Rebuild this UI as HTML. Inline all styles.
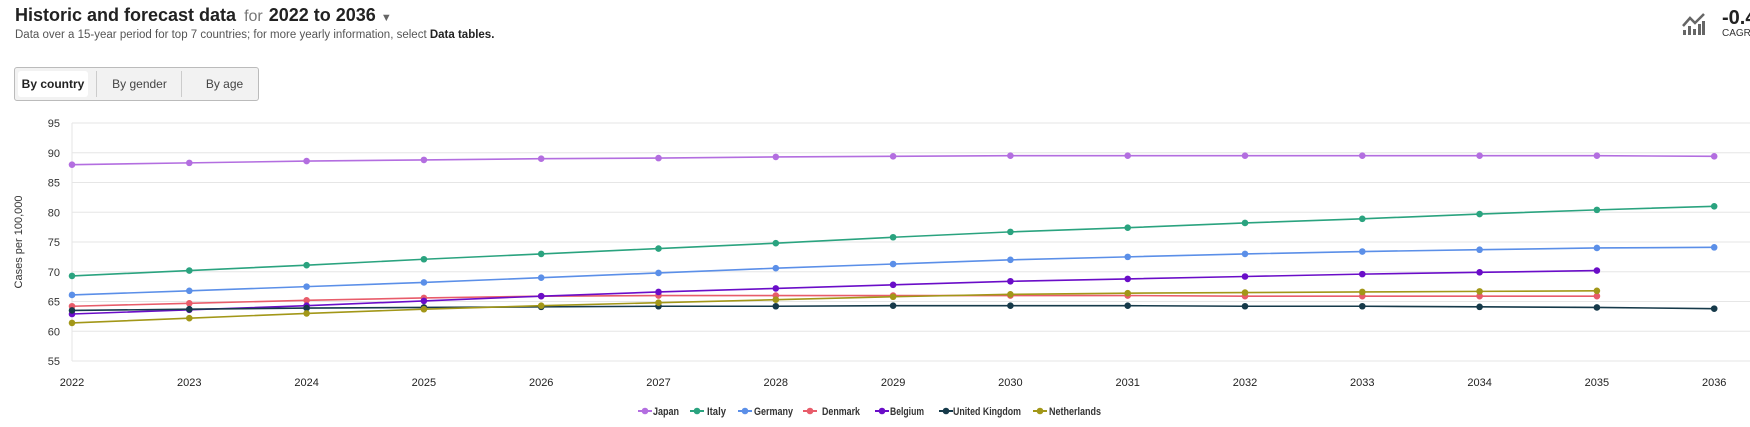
<!DOCTYPE html>
<html><head><meta charset="utf-8"><style>
body{margin:0;width:1750px;height:427px;background:#fff;font-family:"Liberation Sans",sans-serif;overflow:hidden;position:relative}
.t{position:absolute;left:15px;top:5px;font-size:18px;font-weight:bold;color:#222;white-space:nowrap}
.t .f{font-weight:normal;color:#777;font-size:16px;margin:0 6px 0 8px}
.s{position:absolute;left:15px;top:29px;font-size:11.5px;color:#555;white-space:nowrap}
.s b{color:#222}
.btns{position:absolute;left:14px;top:67px;width:245px;height:34px;border:1px solid #bbb;border-radius:3px;background:#f2f2f2;box-sizing:border-box}
.btns div{position:absolute;top:3px;height:26px;line-height:26px;font-size:12px;color:#444;text-align:center}
</style></head><body>
<div class="t">Historic and forecast data<span class="f">for</span>2022 to 2036 <span style="font-size:11px;color:#666">▼</span></div>
<div class="s">Data over a 15-year period for top 7 countries; for more yearly information, select <b>Data tables.</b></div>
<div class="btns">
<div style="left:3px;width:70px;background:#fff;border-radius:3px;font-weight:bold;color:#222">By country</div>
<div style="left:81px;width:85px;border-left:1px solid #ccc">By gender</div>
<div style="left:166px;width:85px;border-left:1px solid #ccc">By age</div>
</div>
<svg style="position:absolute;left:1682px;top:12px" width="24" height="24" viewBox="0 0 24 24"><path d="M1 14 L8 6 L13 11 L22 2" stroke="#666" stroke-width="2.5" fill="none"/><rect x="1" y="18" width="3" height="5" fill="#666"/><rect x="6" y="14" width="3" height="9" fill="#666"/><rect x="11" y="17" width="3" height="6" fill="#666"/><rect x="16" y="12" width="3" height="11" fill="#666"/><rect x="20" y="9" width="3" height="14" fill="#666"/></svg>
<div style="position:absolute;left:1722px;top:7px;font-size:20px;font-weight:bold;color:#222;white-space:nowrap">-0.4</div>
<div style="position:absolute;left:1722px;top:28px;font-size:10px;color:#333;white-space:nowrap">CAGR (</div>
<svg id="c" style="position:absolute;left:0;top:0" width="1750" height="427"></svg>
<script>
var s=document.getElementById('c'),h='';
var X=function(i){return 72+i*117.3},Y=function(v){return 123+(95-v)*5.95};
for(var v=55;v<=95;v+=5){h+='<line x1="72" x2="1750" y1="'+Y(v)+'" y2="'+Y(v)+'" stroke="#e6e6e6" stroke-width="1"/>';h+='<text x="60" y="'+(Y(v)+4)+'" text-anchor="end" font-size="11" fill="#333">'+v+'</text>';}
h+='<line x1="72" x2="72" y1="123" y2="361" stroke="#e6e6e6"/>';
for(var i=0;i<15;i++)h+='<text x="'+X(i)+'" y="386" text-anchor="middle" font-size="11" fill="#222">'+(2022+i)+'</text>';
h+='<text transform="translate(22,242) rotate(-90)" text-anchor="middle" font-size="11" fill="#333">Cases per 100,000</text>';
var D=[
['Japan','#b36ee0',[88.0,88.3,88.6,88.8,89.0,89.1,89.3,89.4,89.5,89.5,89.5,89.5,89.5,89.5,89.4]],
['Italy','#2aa37f',[69.3,70.2,71.1,72.1,73.0,73.9,74.8,75.8,76.7,77.4,78.2,78.9,79.7,80.4,81.0]],
['Germany','#5b8fe8',[66.1,66.8,67.5,68.2,69.0,69.8,70.6,71.3,72.0,72.5,73.0,73.4,73.7,74.0,74.1]],
['Denmark','#e85c6a',[64.2,64.7,65.2,65.6,65.9,66.0,66.0,66.0,66.0,66.0,65.9,65.9,65.9,65.9]],
['Belgium','#6a0dc8',[62.9,63.6,64.3,65.1,65.9,66.6,67.2,67.8,68.4,68.8,69.2,69.6,69.9,70.2]],
['United Kingdom','#163a4a',[63.5,63.7,63.9,64.0,64.1,64.2,64.2,64.3,64.3,64.3,64.2,64.2,64.1,64.0,63.8]],
['Netherlands','#a29718',[61.4,62.2,63.0,63.7,64.3,64.8,65.3,65.8,66.2,66.4,66.5,66.6,66.7,66.8]]];
D.forEach(function(d){var p=d[2].map(function(v,i){return X(i)+','+Y(v)}).join(' ');
h+='<polyline points="'+p+'" fill="none" stroke="'+d[1]+'" stroke-width="1.6"/>';
d[2].forEach(function(v,i){h+='<circle cx="'+X(i)+'" cy="'+Y(v)+'" r="3.3" fill="'+d[1]+'"/>'});});
var lm=[645,697,745,810,882,946,1040],lt=[653,707,754,822,890,953,1049],lw=[26,19,39,38,34,68,52];
D.forEach(function(d,i){var x=lm[i];h+='<line x1="'+(x-7)+'" x2="'+(x+7)+'" y1="411" y2="411" stroke="'+d[1]+'" stroke-width="2"/><circle cx="'+x+'" cy="411" r="3.3" fill="'+d[1]+'"/><text x="'+lt[i]+'" y="415" font-size="11" fill="#333" font-weight="bold" textLength="'+lw[i]+'" lengthAdjust="spacingAndGlyphs">'+d[0]+'</text>';});
s.innerHTML=h;
</script>
</body></html>
